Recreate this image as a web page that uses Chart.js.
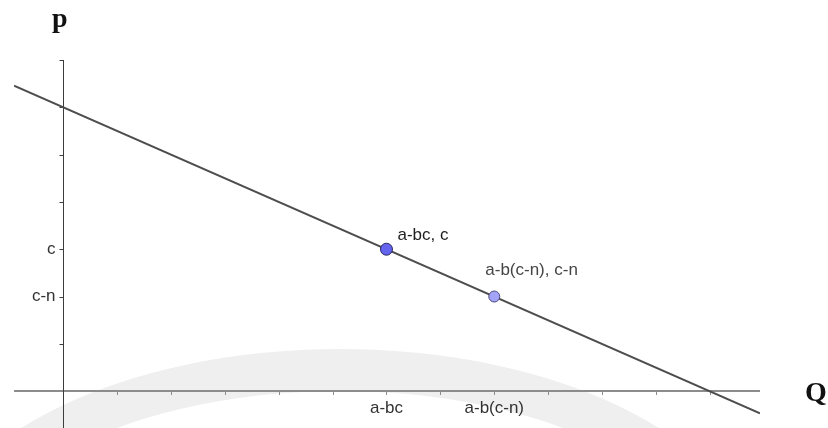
<!DOCTYPE html>
<html lang="en">
<head>
    <meta charset="UTF-8">
    <title>Nachfrage p-Q</title>
    <script src="https://cdn.jsdelivr.net/npm/chart.js"></script>
    <style>
        html, body { margin: 0; padding: 0; background: #fff; overflow: hidden; }
        canvas { display: block; }
    </style>
</head>
<body>
    <canvas id="nachfrageChart" width="828" height="428"></canvas>
    <script>
// demand line p = f(Q), endpoints of the drawn segment
const demandQ = [-0.91, 12.93];
const demandP = [6.46, -0.47];

// the two marked points on the line
const pointQ = [6, 8];
const pointP = [3, 2];
const pointLabels = ['a-bc, c', 'a-b(c-n), c-n'];

// ticks along the axes (empty string = tick mark only)
const xTickValues = [1, 2, 3, 4, 5, 6, 7, 8, 9, 10, 11, 12];
const xTickLabels = ['', '', '', '', '', 'a-bc', '', 'a-b(c-n)', '', '', '', ''];
const yTickValues = [1, 2, 3, 4, 5, 6, 7];
const yTickLabels = ['', 'c-n', 'c', '', '', '', ''];

const axisNames = { x: 'Q', y: 'p' };

const labelFont = '17px "Liberation Sans", Arial, sans-serif';
const nameFont = 'bold 28px "Liberation Serif", "Times New Roman", serif';

// faint arc in the background
const backdrop = {
    id: 'backdrop',
    beforeDraw(chart) {
        const ctx = chart.ctx;
        ctx.save();
        ctx.strokeStyle = '#efefef';
        ctx.lineWidth = 42;
        ctx.beginPath();
        ctx.ellipse(340, 580, 400, 210, 0, Math.PI, 2 * Math.PI);
        ctx.stroke();
        ctx.restore();
    }
};

// axes through the origin, with ticks and labels
const originAxes = {
    id: 'originAxes',
    beforeDatasetsDraw(chart) {
        const ctx = chart.ctx;
        const xs = chart.scales.x;
        const ys = chart.scales.y;
        const area = chart.chartArea;
        const x0 = Math.round(xs.getPixelForValue(0)) + 0.5;
        const y0 = Math.round(ys.getPixelForValue(0));

        ctx.save();
        // horizontal axis
        ctx.strokeStyle = '#8c8c8c';
        ctx.lineWidth = 2;
        ctx.beginPath();
        ctx.moveTo(area.left, y0);
        ctx.lineTo(area.right, y0);
        ctx.stroke();

        ctx.lineWidth = 1;
        xTickValues.forEach(v => {
            const px = Math.round(xs.getPixelForValue(v)) + 0.5;
            ctx.beginPath();
            ctx.moveTo(px, y0);
            ctx.lineTo(px, y0 + 4);
            ctx.stroke();
        });

        // vertical axis
        ctx.strokeStyle = '#3c3c3c';
        ctx.beginPath();
        ctx.moveTo(x0, area.top);
        ctx.lineTo(x0, area.bottom);
        ctx.stroke();

        yTickValues.forEach(v => {
            const py = Math.round(ys.getPixelForValue(v)) + 0.5;
            ctx.beginPath();
            ctx.moveTo(x0 - 4, py);
            ctx.lineTo(x0, py);
            ctx.stroke();
        });

        // tick labels
        ctx.fillStyle = '#333';
        ctx.font = labelFont;
        ctx.textAlign = 'center';
        ctx.textBaseline = 'middle';
        xTickValues.forEach((v, i) => {
            if (xTickLabels[i]) ctx.fillText(xTickLabels[i], xs.getPixelForValue(v), y0 + 17);
        });
        ctx.textAlign = 'right';
        yTickValues.forEach((v, i) => {
            if (yTickLabels[i]) ctx.fillText(yTickLabels[i], x0 - 8, ys.getPixelForValue(v));
        });

        // axis names
        ctx.fillStyle = '#111';
        ctx.font = nameFont;
        ctx.textAlign = 'left';
        ctx.textBaseline = 'alphabetic';
        ctx.fillText(axisNames.y, 52, 27);
        ctx.fillText(axisNames.x, 805, 401);
        ctx.restore();
    },
    afterDatasetsDraw(chart) {
        const ctx = chart.ctx;
        const xs = chart.scales.x;
        const ys = chart.scales.y;
        // label offsets from each point, in pixels
        const offsets = [[11, -14], [-9, -26]];
        const colors = ['#1e1e1e', '#454545'];
        ctx.save();
        ctx.font = labelFont;
        ctx.textAlign = 'left';
        ctx.textBaseline = 'middle';
        pointQ.forEach((q, i) => {
            ctx.fillStyle = colors[i];
            ctx.fillText(pointLabels[i],
                xs.getPixelForValue(q) + offsets[i][0],
                ys.getPixelForValue(pointP[i]) + offsets[i][1]);
        });
        ctx.restore();
    }
};

new Chart(document.getElementById('nachfrageChart'), {
    type: 'scatter',
    data: {
        datasets: [
            {
                label: 'Punkte',
                data: pointQ.map((q, i) => ({ x: q, y: pointP[i] })),
                backgroundColor: ['#6464ee', '#a3a3f7'],
                borderColor: ['#25255e', '#4a4a78'],
                borderWidth: 1,
                pointRadius: [6, 5.5],
                order: 1
            },
            {
                label: 'Nachfrage',
                type: 'line',
                data: demandQ.map((q, i) => ({ x: q, y: demandP[i] })),
                borderColor: '#4d4d4d',
                borderWidth: 2,
                pointRadius: 0,
                fill: false,
                order: 2
            }
        ]
    },
    options: {
        responsive: false,
        animation: false,
        layout: {
            autoPadding: false,
            padding: { left: 14, right: 68, top: 60, bottom: 0 }
        },
        plugins: {
            legend: { display: false },
            tooltip: { enabled: false }
        },
        scales: {
            x: { type: 'linear', min: -0.91, max: 12.93, display: false },
            y: { type: 'linear', min: -0.78, max: 7, display: false }
        }
    },
    plugins: [backdrop, originAxes]
});
    </script>
</body>
</html>
